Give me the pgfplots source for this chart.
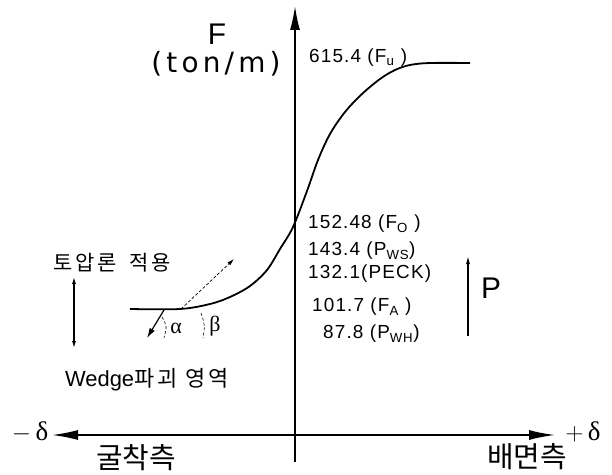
\documentclass[border=0pt]{standalone}
\usepackage{pgfplots}
\pgfplotsset{compat=1.18}
\usepackage{fontspec}
\setmainfont{Liberation Sans}
\newfontfamily\wide[LetterSpace=15]{DejaVu Sans}
\newfontfamily\num[LetterSpace=6]{Liberation Sans}
\newfontfamily\kr{Noto Sans CJK KR}
\newfontfamily\krw[LetterSpace=14]{Noto Sans CJK KR}
\newfontfamily\grk{Liberation Serif}
\usetikzlibrary{arrows.meta}

% Load-displacement curve of the wall (schematic, drawing units)
\pgfplotstableread{
x   y
130 309
180 309
210 304
230 297
250 286
267 270
280 249
293 227
307 191
318 160
330 134
345 112
362 94
380 79
395 70
410 65
430 63
470 63
}\curve

\begin{document}
\begin{tikzpicture}
\begin{axis}[
  width=612bp, height=473bp, scale only axis, hide axis,
  xmin=0, xmax=612, ymin=0, ymax=473, y dir=reverse, clip=false]
\path (axis cs:0,0) rectangle (axis cs:612,473);

% axes
\draw[line width=1.6bp, -{Latex[length=24bp,width=10bp]}] (axis cs:295,462) -- (axis cs:295,6);
\draw[line width=1.6bp, -{Latex[length=26bp,width=10bp]}] (axis cs:295,435) -- (axis cs:52,435);
\draw[line width=1.6bp, -{Latex[length=26bp,width=10bp]}] (axis cs:295,435) -- (axis cs:555,435);

% curve
\addplot[black, line width=1.8bp, smooth, tension=0.55] table[x=x,y=y] {\curve};

% wall movement directions
\draw[line width=0.7bp, densely dashed, -{Latex[length=7bp,width=4bp]}] (axis cs:181,309) -- (axis cs:234,259);
\draw[line width=1.2bp, -{Latex[length=10bp,width=6bp]}] (axis cs:164,310) -- (axis cs:147,338);
\draw[line width=0.6bp, densely dashed] (axis cs:162,317) .. controls (axis cs:167,326) .. (axis cs:164,338);
\draw[line width=0.6bp, densely dashed] (axis cs:201,313) .. controls (axis cs:205,325) .. (axis cs:203,338);
\node[font=\grk\fontsize{22}{24}\selectfont] at (axis cs:176,328) {α};
\node[font=\grk\fontsize{22}{24}\selectfont] at (axis cs:215,326) {β};

% double arrow and P arrow
\draw[line width=1.1bp, {Latex[length=7bp,width=4bp]}-{Latex[length=7bp,width=4bp]}] (axis cs:74,277) -- (axis cs:74,348);
\draw[line width=1.1bp, -{Latex[length=8bp,width=4bp]}] (axis cs:468,336) -- (axis cs:468,256);
\node[font=\fontsize{30}{32}\selectfont] at (axis cs:491,288) {P};

% axis titles
\node[font=\fontsize{30}{32}\selectfont, inner sep=0pt] at (axis cs:217,34) {F};
\node[font=\wide\fontsize{28}{30}\selectfont, inner sep=0pt] at (axis cs:216,64) {(ton/m)};
\node[font=\grk\fontsize{27}{29}\selectfont] at (axis cs:30,432) {$-$\,δ};
\node[font=\grk\fontsize{27}{29}\selectfont] at (axis cs:583,432) {$+$\,δ};
\node[font=\kr\fontsize{29}{31}\selectfont] at (axis cs:136,458) {굴착측};
\node[font=\kr\fontsize{29}{31}\selectfont] at (axis cs:527,457) {배면측};

% region labels
\node[font=\krw\fontsize{21}{23}\selectfont] at (axis cs:112,263) {토압론\hspace{0.25em} 적용};
\node[font=\fontsize{22}{24}\selectfont] at (axis cs:147,380) {Wedge{\krw\fontsize{22}{24}\selectfont 파괴 영역}};

% load values
\node[anchor=west, font=\num\fontsize{19}{21}\selectfont, inner sep=0pt] at (axis cs:309,58) {615.4 (F\textsubscript{u} )};
\node[anchor=west, font=\num\fontsize{19}{21}\selectfont, inner sep=0pt] at (axis cs:308,224) {152.48 (F\textsubscript{O} )};
\node[anchor=west, font=\num\fontsize{19}{21}\selectfont, inner sep=0pt] at (axis cs:308,251) {143.4 (P\textsubscript{WS})};
\node[anchor=west, font=\num\fontsize{19}{21}\selectfont, inner sep=0pt] at (axis cs:308,274) {132.1(PECK)};
\node[anchor=west, font=\num\fontsize{19}{21}\selectfont, inner sep=0pt] at (axis cs:312,307) {101.7 (F\textsubscript{A} )};
\node[anchor=west, font=\num\fontsize{19}{21}\selectfont, inner sep=0pt] at (axis cs:323,334) {87.8 (P\textsubscript{WH})};
\end{axis}
\end{tikzpicture}
\end{document}
